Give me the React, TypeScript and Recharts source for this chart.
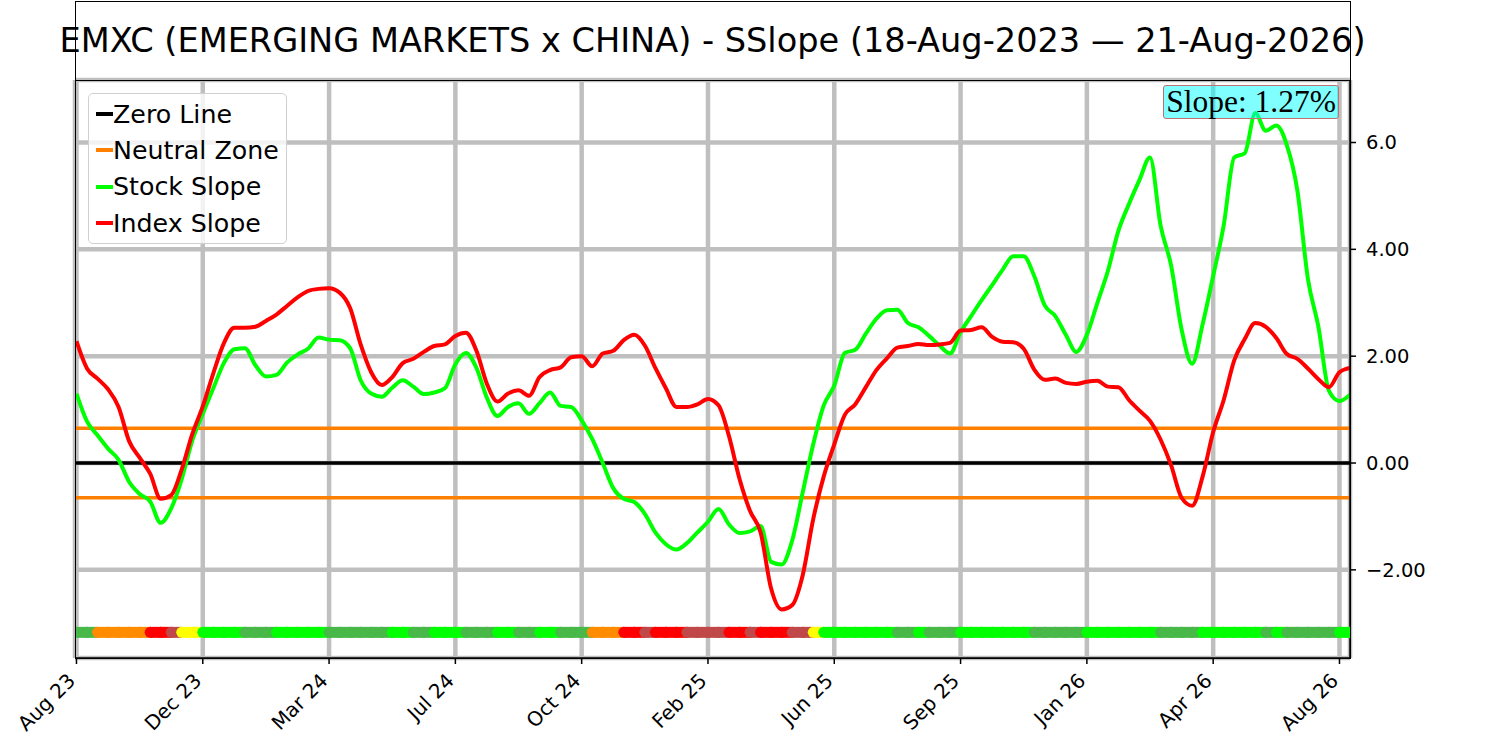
import React from 'react';
import {
  ComposedChart,
  Line,
  XAxis,
  YAxis,
  CartesianGrid,
  ReferenceLine,
} from 'recharts';

const TITLE = 'EMXC (EMERGING MARKETS x CHINA) - SSlope (18-Aug-2023 — 21-Aug-2026)';
const SLOPE_TEXT = 'Slope: 1.27%';

// x is a trading-day bucket index, ticks every 12 buckets
const X_TICK_INDEX = [0, 12, 24, 36, 48, 60, 72, 84, 96, 108, 120];
const X_TICK_LABELS = [
  'Aug 23', 'Dec 23', 'Mar 24', 'Jul 24', 'Oct 24', 'Feb 25',
  'Jun 25', 'Sep 25', 'Jan 26', 'Apr 26', 'Aug 26',
];
const Y_TICKS = [-2, 0, 2, 4, 6];
const Y_TICK_LABELS = ['−2.00', '0.00', '2.00', '4.00', '6.0'];

const ZERO_LEVEL = 0;
const NEUTRAL_BAND = 0.65;
const SIGNAL_LEVEL = -3.17;

const stockSlope = [
  1.30, 0.78, 0.52, 0.27, 0.06, -0.35, -0.58, -0.72, -1.12, -0.85,
  -0.30, 0.42, 0.92, 1.40, 1.87, 2.13, 2.15, 1.83, 1.62, 1.65,
  1.88, 2.03, 2.14, 2.35, 2.31, 2.30, 2.15, 1.55, 1.30, 1.24,
  1.41, 1.55, 1.43, 1.29, 1.32, 1.40, 1.85, 2.06, 1.78, 1.22,
  0.88, 1.05, 1.12, 0.92, 1.12, 1.32, 1.07, 1.05, 0.80, 0.45,
  0.00, -0.47, -0.67, -0.73, -0.95, -1.30, -1.52, -1.62, -1.50, -1.30,
  -1.10, -0.86, -1.15, -1.31, -1.28, -1.18, -1.85, -1.90, -1.45, -0.55,
  0.35, 1.08, 1.45, 2.06, 2.12, 2.42, 2.70, 2.86, 2.87, 2.62,
  2.54, 2.38, 2.20, 2.05, 2.45, 2.75, 3.05, 3.33, 3.62, 3.87,
  3.87, 3.50, 2.95, 2.75, 2.40, 2.08, 2.40, 3.00, 3.60, 4.35,
  4.85, 5.30, 5.72, 4.45, 3.70, 2.50, 1.86, 2.60, 3.50, 4.45,
  5.72, 5.80, 6.55, 6.22, 6.32, 5.95, 5.10, 3.45, 2.55, 1.35,
  1.16, 1.28,
];

const indexSlope = [
  2.28, 1.77, 1.58, 1.38, 1.05, 0.41, 0.10, -0.20, -0.67, -0.60,
  -0.12, 0.54, 1.06, 1.68, 2.24, 2.53, 2.53, 2.55, 2.66, 2.78,
  2.94, 3.10, 3.22, 3.26, 3.27, 3.19, 2.90, 2.22, 1.70, 1.46,
  1.61, 1.87, 1.95, 2.08, 2.19, 2.22, 2.38, 2.44, 2.10, 1.48,
  1.15, 1.30, 1.36, 1.26, 1.61, 1.74, 1.79, 1.98, 2.00, 1.81,
  2.05, 2.10, 2.30, 2.40, 2.20, 1.78, 1.40, 1.05, 1.05, 1.10,
  1.20, 1.08, 0.50, -0.30, -0.90, -1.30, -2.35, -2.74, -2.66, -2.10,
  -1.05, -0.25, 0.35, 0.90, 1.10, 1.42, 1.74, 1.96, 2.16, 2.19,
  2.23, 2.21, 2.22, 2.25, 2.48, 2.49, 2.54, 2.36, 2.27, 2.26,
  2.14, 1.75, 1.56, 1.58, 1.50, 1.48, 1.52, 1.54, 1.43, 1.42,
  1.18, 0.98, 0.79, 0.44, -0.04, -0.65, -0.80, -0.25, 0.58, 1.18,
  1.92, 2.32, 2.62, 2.55, 2.34, 2.04, 1.95, 1.77, 1.57, 1.42,
  1.70, 1.78,
];

// L lime, G green, O orange, R red, B brown-red, Y yellow
const signalCodes = (
  'GGOOOOORRB' + 'YYLLLLGGGL' + 'LLLLGGGGGG' + 'LLGGLLLGGG' +
  'LLGGLLGGGO' + 'OORRBRRRBB' + 'BBRRBRRRBB' + 'YLLLLLLLGG' +
  'LGGGLLLLLL' + 'LGGGGGLLLL' + 'LLLGGGGLLL' + 'LLLGLGGGGG' + 'LL'
).split('');

const SIGNAL_COLORS: Record<string, string> = {
  L: '#00ff00',
  G: '#48b848',
  O: '#ff8c00',
  R: '#ff0000',
  B: '#c04848',
  Y: '#ffff00',
};

const LEGEND_ITEMS = [
  { label: 'Zero Line', color: '#000000' },
  { label: 'Neutral Zone', color: '#ff8000' },
  { label: 'Stock Slope', color: '#00ff00' },
  { label: 'Index Slope', color: '#ff0000' },
];

const data = stockSlope.map((s, i) => ({
  i,
  stock: s,
  index: indexSlope[i],
  signal: SIGNAL_LEVEL,
  code: signalCodes[i],
}));

const FONT = '"DejaVu Sans", sans-serif';

const CHART_W = 1500;
const CHART_H = 741;
const MARGIN = { top: 80, right: 0, bottom: 0, left: 75 };
const Y_AXIS_W = 150;
const X_AXIS_H = 83;
const X_DOMAIN: [number, number] = [-0.14, 121];
const PLOT_W = CHART_W - MARGIN.left - Y_AXIS_W;
const STEP_PX = PLOT_W / (X_DOMAIN[1] - X_DOMAIN[0]);
const DOT_R = 5.5;

const XTick = (props: any) => {
  const { x, y, payload } = props;
  const label = X_TICK_LABELS[X_TICK_INDEX.indexOf(payload.value)];
  const ax = x;
  const ay = y + 16;
  return (
    <text
      x={ax}
      y={ay}
      transform={`rotate(-45 ${ax} ${ay})`}
      textAnchor="end"
      fontSize={20}
      fontFamily={FONT}
      fill="#000"
    >
      {label}
    </text>
  );
};

// dense marker strip: each point is a circle trailed by a band up to the next point
const renderSignalDot = (props: any) => {
  const { cx, cy, index, payload } = props;
  const fill = SIGNAL_COLORS[payload.code];
  return (
    <g key={`sig-${index}`}>
      {index < data.length - 1 && (
        <rect x={cx} y={cy - DOT_R} width={STEP_PX + 0.5} height={DOT_R * 2} fill={fill} />
      )}
      <circle cx={cx} cy={cy} r={DOT_R} fill={fill} stroke="none" />
    </g>
  );
};

const App: React.FC = () => {
  return (
    <div
      style={{
        position: 'absolute',
        left: 0,
        top: 0,
        width: CHART_W,
        height: CHART_H,
        background: '#fff',
        fontFamily: FONT,
      }}
    >
      <ComposedChart width={CHART_W} height={CHART_H} data={data} margin={MARGIN}>
        <CartesianGrid stroke="#bfbfbf" strokeWidth={4.5} />
        <XAxis
          dataKey="i"
          type="number"
          domain={X_DOMAIN}
          ticks={X_TICK_INDEX}
          tick={<XTick />}
          interval={0}
          height={X_AXIS_H}
          stroke="#000"
          axisLine={{ stroke: '#000', strokeWidth: 1.5 }}
          tickLine={{ stroke: '#000', strokeWidth: 1.5 }}
          tickSize={6}
          allowDataOverflow
        />
        <YAxis
          orientation="right"
          type="number"
          domain={[-3.65, 7.17]}
          ticks={Y_TICKS}
          tickFormatter={(v: number) => Y_TICK_LABELS[Y_TICKS.indexOf(v)]}
          width={Y_AXIS_W}
          axisLine={{ stroke: '#000', strokeWidth: 1.5 }}
          tickLine={{ stroke: '#000', strokeWidth: 1.5 }}
          tickSize={6}
          tickMargin={10}
          tick={{ fontSize: 19.5, fill: '#000', fontFamily: FONT }}
          allowDataOverflow
        />
        <ReferenceLine y={ZERO_LEVEL} stroke="#000" strokeWidth={3.5} />
        <ReferenceLine y={NEUTRAL_BAND} stroke="#ff8000" strokeWidth={3.5} />
        <ReferenceLine y={-NEUTRAL_BAND} stroke="#ff8000" strokeWidth={3.5} />
        <Line
          dataKey="signal"
          stroke="none"
          dot={renderSignalDot}
          activeDot={false}
          isAnimationActive={false}
        />
        <Line
          type="monotone"
          dataKey="stock"
          stroke="#00ff00"
          strokeWidth={4}
          dot={false}
          activeDot={false}
          isAnimationActive={false}
        />
        <Line
          type="monotone"
          dataKey="index"
          stroke="#ff0000"
          strokeWidth={4}
          dot={false}
          activeDot={false}
          isAnimationActive={false}
        />
      </ComposedChart>

      {/* title box */}
      <div
        style={{
          position: 'absolute',
          left: 74.5,
          top: 0.5,
          width: 1276,
          height: 80,
          border: '1.5px solid #000',
          boxSizing: 'border-box',
          display: 'flex',
          alignItems: 'center',
          justifyContent: 'center',
          overflow: 'visible',
        }}
      >
        <span style={{ fontSize: 33.6, whiteSpace: 'nowrap', color: '#000' }}>{TITLE}</span>
      </div>

      {/* axes frame */}
      <div
        style={{
          position: 'absolute',
          left: 74.5,
          top: 79.5,
          width: 1276,
          height: 579,
          border: '1.5px solid #000',
          boxSizing: 'border-box',
          pointerEvents: 'none',
        }}
      />

      {/* legend */}
      <div
        style={{
          position: 'absolute',
          left: 88,
          top: 93,
          width: 199,
          height: 151,
          boxSizing: 'border-box',
          border: '1.5px solid #d0d0d0',
          borderRadius: 5,
          background: 'rgba(255,255,255,0.8)',
          paddingTop: 2,
        }}
      >
        {LEGEND_ITEMS.map((item) => (
          <div
            key={item.label}
            style={{ display: 'flex', alignItems: 'center', height: 36.3, paddingLeft: 7 }}
          >
            <span
              style={{
                display: 'inline-block',
                width: 17,
                height: 4,
                background: item.color,
                marginRight: 0,
              }}
            />
            <span style={{ fontSize: 25.3, color: '#000', whiteSpace: 'nowrap' }}>{item.label}</span>
          </div>
        ))}
      </div>

      {/* slope annotation */}
      <div
        style={{
          position: 'absolute',
          left: 1163,
          top: 85,
          width: 176,
          height: 34,
          boxSizing: 'border-box',
          border: '1.5px solid #c07070',
          borderRadius: 3,
          background: 'rgba(0,255,255,0.5)',
          display: 'flex',
          alignItems: 'center',
          justifyContent: 'center',
          fontFamily: '"Liberation Serif", "Times New Roman", serif',
          fontSize: 31.5,
          lineHeight: 1,
          color: '#000',
          whiteSpace: 'nowrap',
        }}
      >
        {SLOPE_TEXT}
      </div>
    </div>
  );
};

export default App;
